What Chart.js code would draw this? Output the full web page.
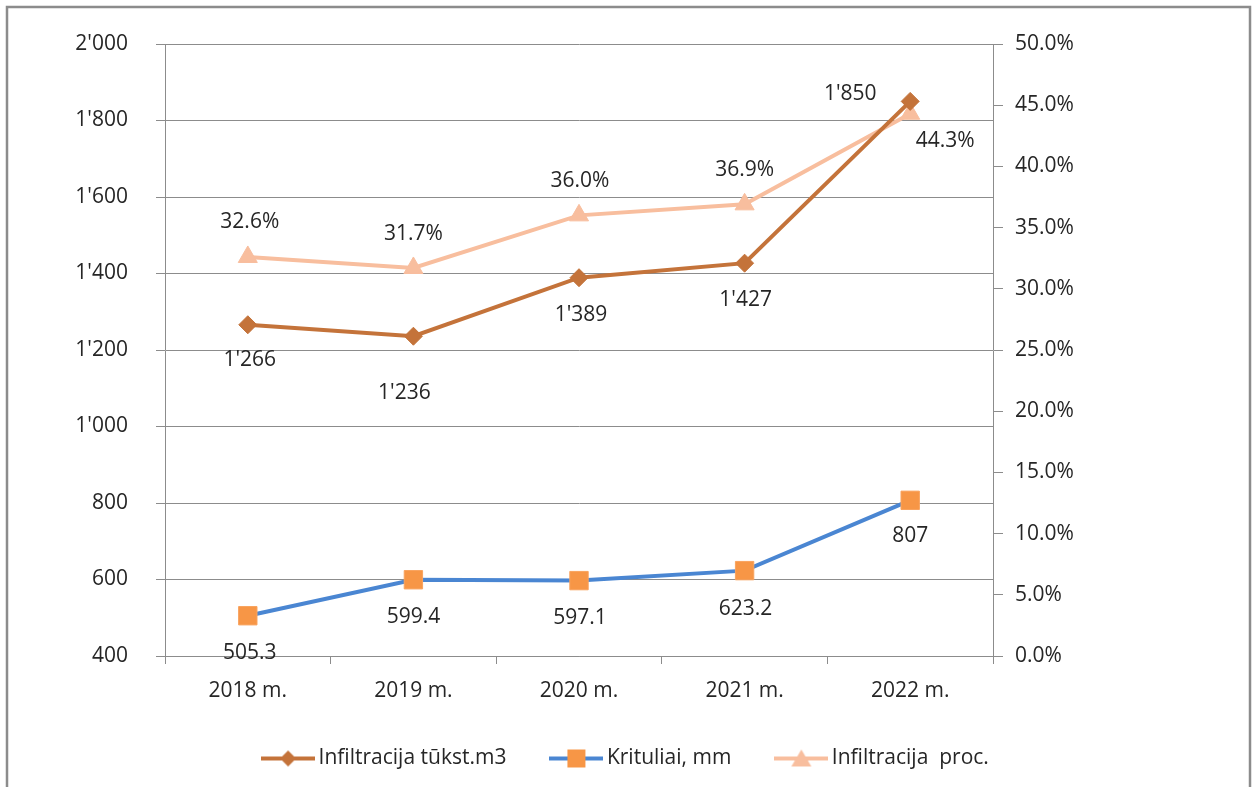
<!DOCTYPE html>
<html>
<head>
<meta charset="utf-8">
<script src="https://cdn.jsdelivr.net/npm/chart.js@4.4.1/dist/chart.umd.min.js"></script>
<style>
  html, body { margin: 0; padding: 0; background: #fff; }
  #wrap { width: 1257px; height: 787px; }
</style>
</head>
<body>
<div id="wrap"><canvas id="infChart" width="1257" height="787"></canvas></div>
<script>
// duomenys
const years = ['2018 m.', '2019 m.', '2020 m.', '2021 m.', '2022 m.'];
const infiltracija = [1266, 1236, 1389, 1427, 1850];
const krituliai = [505.3, 599.4, 597.1, 623.2, 807];
const infiltracijaProc = [32.6, 31.7, 36.0, 36.9, 44.3];

const brown = '#C4733A';
const blue = '#4A86D2';
const orange = '#F79646';
const pale = '#F8BE9E';
const gridGray = '#8C8C8C';
const textColor = '#262626';
const fontFamily = "'Open Sans', 'Noto Sans', sans-serif";

const fmtThousands = v => {
    const s = Math.round(v).toString();
    return s.length > 3 ? s.slice(0, -3) + "'" + s.slice(-3) : s;
};

// etikečių poslinkiai nuo taško (dx, dy)
const labelShift = {
    0: [[2, 35], [-9, 57], [2, 37], [1, 37], [-60, -7]],
    1: [[2, 37], [0, 37], [1, 37], [1, 38], [0, 36]],
    2: [[2, -35], [0, -34], [1, -34], [0, -34], [35, 27]]
};
const labelFormat = {
    0: fmtThousands,
    1: v => String(v),
    2: v => v.toFixed(1) + '%'
};

// legendos ženklas: linija su žymekliu
function legendIcon(color, markColor, shape) {
    const c = document.createElement('canvas');
    c.width = 54; c.height = 22;
    const g = c.getContext('2d');
    g.strokeStyle = color;
    g.lineWidth = 4;
    g.beginPath(); g.moveTo(0, 11); g.lineTo(54, 11); g.stroke();
    g.fillStyle = markColor;
    g.beginPath();
    if (shape === 'diamond') {
        g.moveTo(27, 3); g.lineTo(35, 11); g.lineTo(27, 19); g.lineTo(19, 11);
    } else if (shape === 'square') {
        g.rect(18, 2, 18, 18);
    } else {
        g.moveTo(27, 2); g.lineTo(37, 19); g.lineTo(17, 19);
    }
    g.closePath(); g.fill();
    return c;
}

const icons = [
    legendIcon(brown, brown, 'diamond'),
    legendIcon(blue, orange, 'square'),
    legendIcon(pale, pale, 'triangle')
];

const frame = {
    id: 'frame',
    beforeDraw(chart) {
        const ctx = chart.ctx;
        ctx.save();
        ctx.fillStyle = '#fff';
        ctx.fillRect(0, 0, chart.width, chart.height);
        ctx.strokeStyle = gridGray;
        ctx.lineWidth = 2.5;
        ctx.strokeRect(7, 7, 1243, 820);
        ctx.restore();
    }
};

const pointLabels = {
    id: 'pointLabels',
    afterDatasetsDraw(chart) {
        const ctx = chart.ctx;
        ctx.save();
        ctx.font = '21px ' + fontFamily;
        ctx.fillStyle = textColor;
        ctx.textAlign = 'center';
        ctx.textBaseline = 'middle';
        chart.data.datasets.forEach((ds, di) => {
            const meta = chart.getDatasetMeta(di);
            meta.data.forEach((pt, i) => {
                const [dx, dy] = labelShift[di][i];
                ctx.fillText(labelFormat[di](ds.data[i]), pt.x + dx, pt.y + dy);
            });
        });
        ctx.restore();
    }
};

Chart.defaults.font.family = fontFamily;
Chart.defaults.font.size = 21;
Chart.defaults.color = textColor;

new Chart(document.getElementById('infChart'), {
    type: 'line',
    data: {
        labels: years,
        datasets: [
            {
                label: 'Infiltracija tūkst.m3',
                data: infiltracija,
                yAxisID: 'y',
                borderColor: brown,
                backgroundColor: brown,
                borderWidth: 4,
                pointStyle: 'rectRot',
                pointRadius: 9,
                pointBackgroundColor: brown,
                pointBorderColor: brown,
                pointBorderWidth: 1,
                tension: 0
            },
            {
                label: 'Krituliai, mm',
                data: krituliai,
                yAxisID: 'y',
                borderColor: blue,
                backgroundColor: orange,
                borderWidth: 4,
                pointStyle: 'rect',
                pointRadius: 13,
                pointBackgroundColor: orange,
                pointBorderColor: '#F9A35E',
                pointBorderWidth: 1,
                tension: 0
            },
            {
                label: 'Infiltracija  proc.',
                data: infiltracijaProc,
                yAxisID: 'y1',
                borderColor: pale,
                backgroundColor: pale,
                borderWidth: 4,
                pointStyle: 'triangle',
                pointRadius: 11,
                pointBackgroundColor: pale,
                pointBorderColor: pale,
                pointBorderWidth: 1,
                tension: 0
            }
        ]
    },
    options: {
        responsive: false,
        animation: false,
        layout: { padding: { top: 44, left: 0, right: 0, bottom: 8 } },
        scales: {
            x: {
                offset: true,
                grid: { offset: true, drawOnChartArea: false, color: gridGray, tickLength: 8 },
                border: { color: gridGray },
                ticks: { padding: 14, color: textColor, font: { size: 21 } },
                afterFit(scale) { scale.height = 42; }
            },
            y: {
                position: 'left',
                min: 400,
                max: 2000,
                grid: { color: gridGray, tickLength: 9 },
                border: { color: gridGray },
                ticks: {
                    stepSize: 200,
                    padding: 28,
                    color: textColor,
                    callback: v => fmtThousands(v)
                },
                afterFit(scale) { scale.width = 165; }
            },
            y1: {
                position: 'right',
                min: 0,
                max: 50,
                grid: { drawOnChartArea: false, color: gridGray, tickLength: 10 },
                border: { color: gridGray },
                ticks: {
                    stepSize: 5,
                    padding: 12,
                    color: textColor,
                    callback: v => v.toFixed(1) + '%'
                },
                afterFit(scale) { scale.width = 264; }
            }
        },
        plugins: {
            tooltip: { enabled: false },
            legend: {
                position: 'bottom',
                labels: {
                    usePointStyle: true,
                    pointStyleWidth: 40,
                    padding: 50,
                    color: textColor,
                    font: { size: 21 },
                    generateLabels(chart) {
                        return chart.data.datasets.map((ds, i) => ({
                            text: ds.label,
                            pointStyle: icons[i],
                            fillStyle: ds.borderColor,
                            strokeStyle: ds.borderColor,
                            lineWidth: 0,
                            hidden: false,
                            datasetIndex: i,
                            fontColor: textColor
                        }));
                    }
                }
            }
        }
    },
    plugins: [frame, pointLabels]
});
</script>
</body>
</html>
